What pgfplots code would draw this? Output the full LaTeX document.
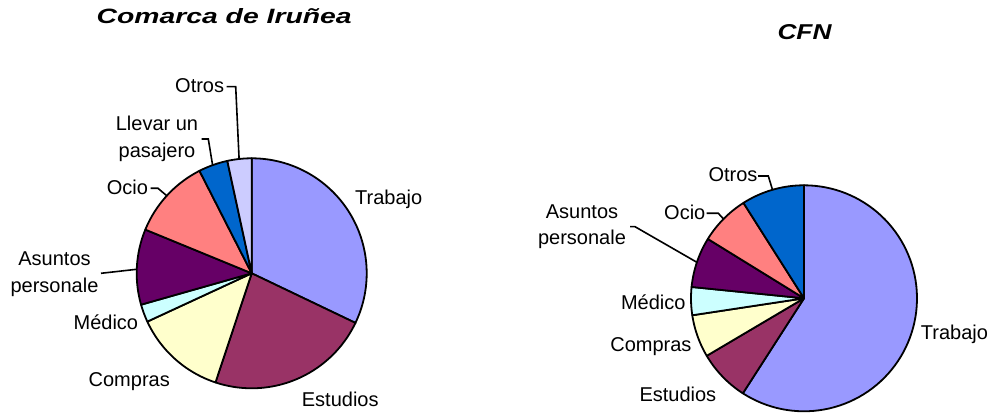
\documentclass[border=0pt]{standalone}
\usepackage{fontspec}
\setmainfont{Liberation Sans}
\usepackage{graphicx}
\usepackage{pgfplots}
\pgfplotsset{compat=1.18}

\definecolor{cTrabajo}{HTML}{9999FF}
\definecolor{cEstudios}{HTML}{993366}
\definecolor{cCompras}{HTML}{FFFFCC}
\definecolor{cMedico}{HTML}{CCFFFF}
\definecolor{cAsuntos}{HTML}{660066}
\definecolor{cOcio}{HTML}{FF8080}
\definecolor{cLlevar}{HTML}{0066CC}
\definecolor{cOtros}{HTML}{CCCCFF}

% slice: centre x, centre y, radius, share before it (%), its share (%), colour
% clockwise from 12 o'clock, as in the original
\newcommand{\slice}[6]{%
  \addplot[draw=black, line width=1.8bp, line join=round, fill=#6,
    domain={90-3.6*(#4+#5)}:{90-3.6*(#4)}, samples=80]
    ({#1+#3*cos(x)}, {#2+#3*sin(x)}) -- (axis cs:#1,#2) -- cycle;}

\begin{document}
\begin{tikzpicture}
\useasboundingbox (0,0) rectangle (991bp,414bp);
\begin{axis}[
  at={(0,0)}, anchor=south west,
  scale only axis, width=991bp, height=414bp,
  xmin=0, xmax=991, ymin=0, ymax=414,
  hide axis, clip=false,
]
% Comarca de Iruñea: 32.1 23.0 13.0 2.5 10.6 11.3 4.1 3.4
\slice{251.7}{140.7}{115}{0}{32.1}{cTrabajo}
\slice{251.7}{140.7}{115}{32.1}{23.0}{cEstudios}
\slice{251.7}{140.7}{115}{55.1}{13.0}{cCompras}
\slice{251.7}{140.7}{115}{68.1}{2.5}{cMedico}
\slice{251.7}{140.7}{115}{70.6}{10.6}{cAsuntos}
\slice{251.7}{140.7}{115}{81.2}{11.3}{cOcio}
\slice{251.7}{140.7}{115}{92.5}{4.1}{cLlevar}
\slice{251.7}{140.7}{115}{96.6}{3.4}{cOtros}
% CFN: 59.1 7.4 6.1 4.0 7.2 7.2 9.0
\slice{804}{115.7}{113}{0}{59.1}{cTrabajo}
\slice{804}{115.7}{113}{59.1}{7.4}{cEstudios}
\slice{804}{115.7}{113}{66.5}{6.1}{cCompras}
\slice{804}{115.7}{113}{72.6}{4.0}{cMedico}
\slice{804}{115.7}{113}{76.6}{7.2}{cAsuntos}
\slice{804}{115.7}{113}{83.8}{7.2}{cOcio}
\slice{804}{115.7}{113}{91.0}{9.0}{cLlevar}

% titles
\node[anchor=base] at (axis cs:224.2,390) {\resizebox{255bp}{15bp}{\bfseries\itshape Comarca de Iruñea}};
\node[anchor=base] at (axis cs:804.5,374) {\resizebox{54bp}{15bp}{\bfseries\itshape CFN}};

\begin{scope}[every node/.style={inner sep=0pt, font=\fontsize{20bp}{26.7bp}\selectfont}]
% labels, left pie
\node[anchor=base west] at (axis cs:355,209) {Trabajo};
\node[anchor=base west] at (axis cs:301.7,8) {Estudios};
\node[anchor=base east] at (axis cs:170,27.3) {Compras};
\node[anchor=base east] at (axis cs:138.3,84) {Médico};
\node[anchor=base, align=center] at (axis cs:54.5,121.3) {Asuntos\\personale};
\node[anchor=base west] at (axis cs:106.7,219) {Ocio};
\node[anchor=base, align=center] at (axis cs:157,256.3) {Llevar un\\pasajero};
\node[anchor=base west] at (axis cs:175,321.7) {Otros};
% labels, right pie
\node[anchor=base west] at (axis cs:920.7,74) {Trabajo};
\node[anchor=base west] at (axis cs:639.3,12.3) {Estudios};
\node[anchor=base east] at (axis cs:691.7,62.3) {Compras};
\node[anchor=base east] at (axis cs:685.7,104) {Médico};
\node[anchor=base, align=center] at (axis cs:582,169) {Asuntos\\personale};
\node[anchor=base west] at (axis cs:664,194.7) {Ocio};
\node[anchor=base west] at (axis cs:708.3,232.3) {Otros};
\end{scope}

% leader lines
\begin{scope}[line width=1.6bp]
\draw (axis cs:101,140.7) -- (axis cs:136.7,144.7);
\draw (axis cs:150.5,225.7) -- (axis cs:158,225.7) -- (axis cs:166.8,218.2);
\draw (axis cs:201.7,275) -- (axis cs:208.3,275) -- (axis cs:212.6,248.8);
\draw (axis cs:226.7,327.3) -- (axis cs:235.7,327.3) -- (axis cs:239.1,255);
\draw (axis cs:630,187.3) -- (axis cs:635,187.3) -- (axis cs:696.9,151.7);
\draw (axis cs:706.7,200.7) -- (axis cs:718.3,200.7) -- (axis cs:723.5,195);
\draw (axis cs:758,238) -- (axis cs:768.3,238) -- (axis cs:772.5,224.2);
\end{scope}
\end{axis}
\end{tikzpicture}
\end{document}
